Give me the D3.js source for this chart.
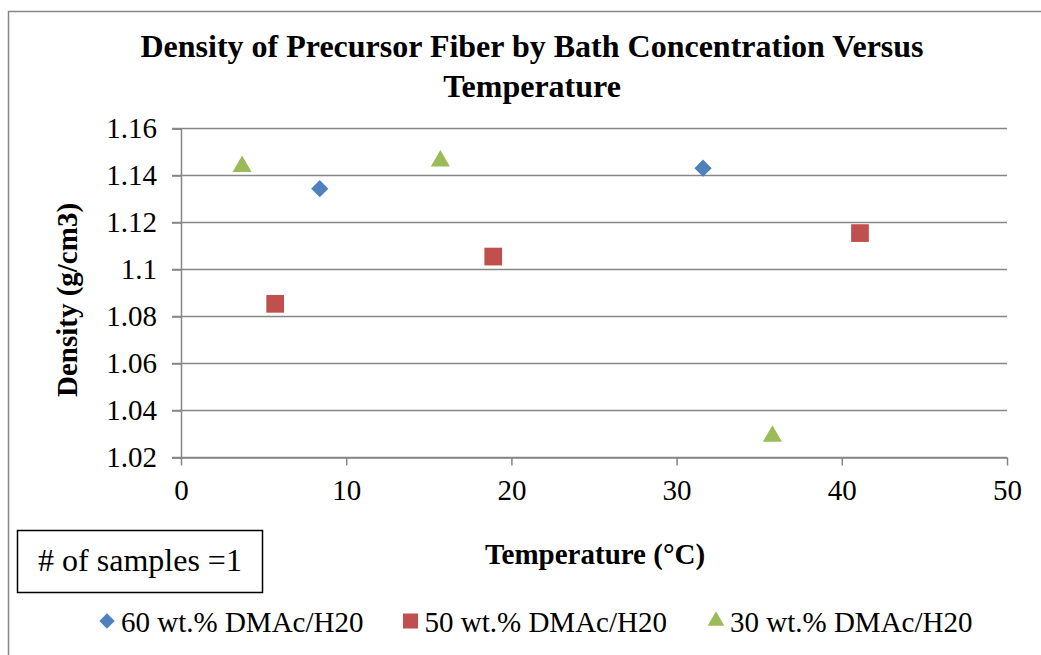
<!DOCTYPE html>
<html>
<head>
<meta charset="utf-8">
<script src="https://cdn.jsdelivr.net/npm/d3@7"></script>
<style>
  body { margin: 0; background: #fff; }
  text { font-family: "Liberation Serif", "Times New Roman", serif; fill: #000; }
</style>
</head>
<body>
<script>
// series
var seriesNames = ["60 wt.% DMAc/H20", "50 wt.% DMAc/H20", "30 wt.% DMAc/H20"];
var temp60 = [8.4, 31.6];
var dens60 = [1.1344, 1.1431];
var temp50 = [5.7, 18.9, 41.1];
var dens50 = [1.0854, 1.1055, 1.1155];
var temp30 = [3.7, 15.7, 35.8];
var dens30 = [1.1438, 1.1462, 1.029];
var xTicks = [0, 10, 20, 30, 40, 50];
var yTicks = [1.02, 1.04, 1.06, 1.08, 1.1, 1.12, 1.14, 1.16];

var colors = ["#4F81BD", "#C0504D", "#9BBB59"];
var shapes = [d3.symbolDiamond2, d3.symbolSquare2, d3.symbolTriangle2];

var W = 1041, H = 655;
var svg = d3.select("body").append("svg")
  .attr("width", W)
  .attr("height", H);

// outer chart border (runs off the right and bottom edges)
svg.append("rect")
  .attr("x", 8.5).attr("y", 11.5)
  .attr("width", 1100).attr("height", 700)
  .attr("fill", "none")
  .attr("stroke", "#868686")
  .attr("stroke-width", 1.5);

var x = d3.scaleLinear().domain([0, 50]).range([181, 1007]);
var y = d3.scaleLinear().domain([1.02, 1.16]).range([457.5, 128.5]);

// gridlines
svg.append("g")
  .selectAll("line")
  .data(yTicks)
  .join("line")
  .attr("x1", x(0) - 9).attr("x2", x(50))
  .attr("y1", function(d) { return y(d); })
  .attr("y2", function(d) { return y(d); })
  .attr("stroke", "#868686")
  .attr("stroke-width", 1.5);

// y axis
var yAxis = svg.append("g")
  .attr("transform", "translate(" + x(0) + ",0)")
  .call(d3.axisLeft(y).tickValues(yTicks).tickSize(9).tickPadding(15)
    .tickFormat(function(d) { return d3.format("")(+d.toFixed(2)); }));
yAxis.select(".domain").attr("stroke", "#868686").attr("stroke-width", 1.5);
yAxis.selectAll(".tick line").attr("stroke", "#868686").attr("stroke-width", 1.5);
yAxis.selectAll(".tick text").attr("font-size", 29).attr("font-family", "Liberation Serif").attr("fill", "#000");

// x axis
var xAxis = svg.append("g")
  .attr("transform", "translate(0," + y(1.02) + ")")
  .call(d3.axisBottom(x).tickValues(xTicks).tickSize(8).tickPadding(14).tickSizeOuter(0));
xAxis.select(".domain").attr("stroke", "#868686").attr("stroke-width", 1.5);
xAxis.selectAll(".tick line").attr("stroke", "#868686").attr("stroke-width", 1.5);
xAxis.selectAll(".tick text").attr("font-size", 29).attr("font-family", "Liberation Serif").attr("fill", "#000");

// points
var series = [
  { t: temp60, d: dens60 },
  { t: temp50, d: dens50 },
  { t: temp30, d: dens30 }
];
series.forEach(function(s, i) {
  var pts = s.t.map(function(t, j) { return [t, s.d[j]]; });
  svg.append("g")
    .selectAll("path")
    .data(pts)
    .join("path")
    .attr("d", d3.symbol().type(shapes[i]).size(i === 1 ? 400 : (i === 0 ? 190 : 260)))
    .attr("transform", function(p) {
      return "translate(" + x(p[0]) + "," + y(p[1]) + ")";
    })
    .attr("fill", colors[i]);
});

// title
var title = svg.append("text")
  .attr("text-anchor", "middle")
  .attr("font-weight", "bold")
  .attr("font-size", 32);
title.append("tspan").attr("x", 532).attr("y", 57).text("Density of Precursor Fiber by Bath Concentration Versus");
title.append("tspan").attr("x", 532).attr("y", 97).text("Temperature");

// axis titles
svg.append("text")
  .attr("x", 595).attr("y", 564)
  .attr("text-anchor", "middle")
  .attr("font-weight", "bold")
  .attr("font-size", 29)
  .text("Temperature (\u00B0C)");

svg.append("text")
  .attr("transform", "translate(77,300) rotate(-90)")
  .attr("text-anchor", "middle")
  .attr("font-weight", "bold")
  .attr("font-size", 29)
  .text("Density (g/cm3)");

// sample-count box
svg.append("rect")
  .attr("x", 17.5).attr("y", 530.5)
  .attr("width", 245).attr("height", 62)
  .attr("fill", "#fff")
  .attr("stroke", "#000")
  .attr("stroke-width", 1.5);
svg.append("text")
  .attr("x", 140).attr("y", 571)
  .attr("text-anchor", "middle")
  .attr("font-size", 32)
  .text("# of samples =1");

// legend
var legendX = [107, 410.5, 716];
var legend = svg.append("g")
  .selectAll("g")
  .data(seriesNames)
  .join("g")
  .attr("transform", function(d, i) { return "translate(" + legendX[i] + ",621)"; });
legend.append("path")
  .attr("d", function(d, i) {
    return d3.symbol().type(shapes[i]).size(i === 1 ? 289 : (i === 0 ? 150 : 200))();
  })
  .attr("fill", function(d, i) { return colors[i]; });
legend.append("text")
  .attr("x", 14)
  .attr("y", 11)
  .attr("font-size", 29)
  .text(function(d) { return d; });
</script>
</body>
</html>
